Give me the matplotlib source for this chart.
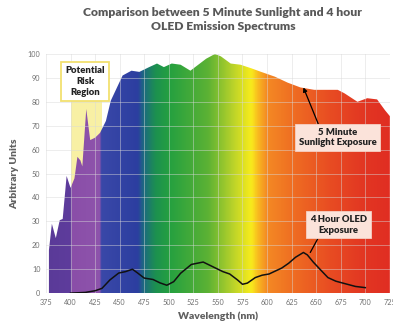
import matplotlib.pyplot as plt
import numpy as np
from matplotlib.colors import LinearSegmentedColormap

# 5 minute sunlight spectrum (nm, arbitrary units)
sun_nm = [378, 381, 385, 389, 392, 396, 400, 404, 407, 410, 412, 416, 420, 425, 430,
          436, 441, 453, 462, 470, 480, 488, 495, 503, 512, 522, 530, 538, 547, 553,
          563, 573, 584, 594, 608, 621, 634, 648, 665, 672, 679, 692, 702, 712, 720, 725]
sun_val = [18, 29, 23, 30.5, 31, 49, 44, 48, 57, 55.5, 53, 77, 64, 65, 67,
           72, 80.5, 91, 93, 92.5, 94.5, 96, 94.5, 96, 95.5, 93, 95.5, 98, 100, 99,
           96, 95.5, 94, 92.5, 90.5, 88, 86, 85, 85, 85, 83.5, 80, 81.5, 81, 76.5, 74]

# 4 hour OLED spectrum
oled_nm = [400, 415, 425, 432, 440, 449, 456, 463, 468, 475, 484, 491, 498, 505, 512,
           523, 535, 545, 555, 562, 570, 575, 580, 588, 595, 602, 615, 622, 629, 637,
           641, 647, 655, 662, 670, 679, 690, 700]
oled_val = [0, 0.3, 1, 2, 5.5, 8.4, 9, 10, 8.5, 6.3, 5.7, 4.3, 3.3, 4.8, 8.3,
            12, 13, 11, 9, 8, 5.5, 3.7, 4.2, 6.5, 7.5, 8, 10.5, 12.5, 15, 17,
            16, 13, 9.5, 6.5, 5, 4, 2.8, 2.3]

xticks = list(range(375, 726, 25))
yticks = list(range(0, 101, 10))

# rainbow stops across the wavelength axis
stop_nm = [375, 399, 401, 429, 431, 468, 474, 486, 500, 540, 565, 584, 592, 600, 630, 665, 700, 725]
stop_col = ["#5a3a98", "#5e3c9c", "#8a4ea8", "#8e54ac", "#3a48a8", "#2c3ea0", "#1c6a80",
            "#1c9050", "#24a040", "#5cb234", "#b8d22a", "#f8ec1c", "#f8b420", "#f48a24",
            "#ee6a22", "#e84c22", "#e23622", "#e02e22"]

plt.rcParams["font.family"] = ["Lato", "DejaVu Sans"]

fig = plt.figure(figsize=(3.93, 3.29), dpi=100)
ax = fig.add_axes([0.117, 0.109, 0.875, 0.727])

ax.set_xlim(375, 725)
ax.set_ylim(0, 100)

# potential risk band
ax.axvspan(400, 432, ymin=0, ymax=0.81, color="#f8f0a4", zorder=0.5, lw=0)

# sunlight fill with a wavelength gradient
poly = ax.fill_between(sun_nm, 0, sun_val, color="none", lw=0, zorder=1)
pos = [(w - 375) / 350 for w in stop_nm]
cmap = LinearSegmentedColormap.from_list("spec", list(zip(pos, stop_col)))
grad = np.linspace(0, 1, 700).reshape(1, -1)
im = ax.imshow(grad, cmap=cmap, extent=(375, 725, 0, 100), aspect="auto", zorder=1,
               interpolation="bilinear")
im.set_clip_path(poly.get_paths()[0], transform=ax.transData)

ax.set_xticks(xticks)
ax.set_yticks(yticks)
ax.grid(True, color="#d8d8d8", lw=0.6, alpha=0.55, zorder=2)
ax.set_axisbelow(False)
for s in ax.spines.values():
    s.set_visible(False)
ax.tick_params(length=0, labelsize=5.2, colors="#707070", pad=4)

ax.plot(oled_nm, oled_val, color="#111111", lw=1.1, zorder=3)

box_kw = dict(boxstyle="square,pad=0.4", fc="#fbe3da", ec="#f6d0c4", lw=0.6)
ax.annotate("5 Minute\nSunlight Exposure", xy=(637, 86), xytext=(672, 65),
            ha="center", va="center", fontsize=6.8, fontweight="heavy", color="#222222",
            bbox=box_kw, zorder=4,
            arrowprops=dict(arrowstyle="-|>", color="black", lw=0.9, mutation_scale=6,
                            shrinkA=0, shrinkB=0, relpos=(0.27, 1.0)))
ax.annotate("4 Hour OLED\nExposure", xy=(644, 17), xytext=(673, 28.5),
            ha="center", va="center", fontsize=6.8, fontweight="heavy", color="#222222",
            bbox=box_kw, zorder=4,
            arrowprops=dict(arrowstyle="-", color="black", lw=0.9, shrinkA=0, shrinkB=0,
                            relpos=(0.17, 0.0)))

ax.text(415, 88.5, "Potential\nRisk\nRegion", ha="center", va="center", fontsize=6.8,
        fontweight="heavy", color="#222222", linespacing=1.3, zorder=4,
        bbox=dict(boxstyle="square,pad=0.45", fc="white", ec="#f2e070", lw=1.3))

ax.set_xlabel("Wavelength (nm)", fontsize=7.5, fontweight="heavy", color="#606060", labelpad=4)
ax.set_ylabel("Arbitrary Units", fontsize=7.5, fontweight="heavy", color="#606060", labelpad=6)

fig.text(0.567, 0.94, "Comparison between 5 Minute Sunlight and 4 hour\nOLED Emission Spectrums",
         ha="center", va="center", fontsize=8.7, fontweight="heavy", color="#585858",
         linespacing=1.35)

fig.savefig("out.png", dpi=100)
